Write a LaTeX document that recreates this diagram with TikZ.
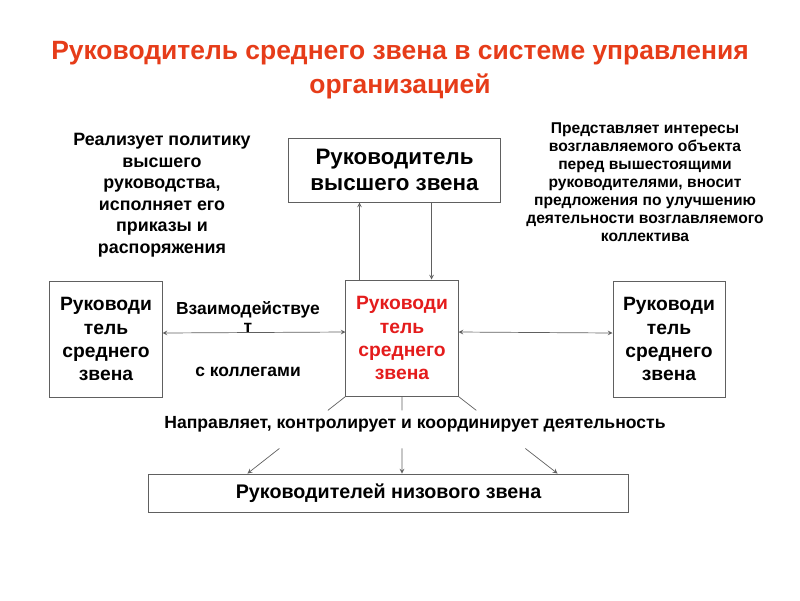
\documentclass[tikz,border=0pt]{standalone}
\usepackage{fontspec}
\setmainfont{Liberation Sans}
\usetikzlibrary{positioning,calc}
\definecolor{colorTitle}{RGB}{230,60,25}
\definecolor{colorMid}{RGB}{228,28,28}
\colorlet{colorLine}{gray!75!black}
\tikzset{
   every path/.style={>=stealth},
   link/.style={color=colorLine,line width=0.5pt},
   box/.style={draw=colorLine,line width=0.7pt,align=center,inner sep=0pt},
   midbox/.style={box,minimum width=2.8cm,minimum height=2.9cm,font=\fontsize{13.7}{16.4}\selectfont\bfseries},
   note/.style={align=center,inner sep=0pt},
}

\begin{document}
\begin{tikzpicture}[x=0.025cm,y=-0.025cm]
   \useasboundingbox (0,0) rectangle (800,600);

   \node (title) [note, text=colorTitle, font=\fontsize{18.8}{24.2}\selectfont\bfseries]
      at (400, 70)
      {Руководитель среднего звена в системе управления\\организацией};

   \node (senior) [box, minimum width=5.275cm, minimum height=1.6cm,
      font=\fontsize{15.9}{18.5}\selectfont\bfseries]
      at (394.5, 170)
      {Руководитель\\высшего звена};

   \node (mid) [midbox, text=colorMid] at (402, 338)
      {Руководи\\тель\\среднего\\звена};
   \node (left) [midbox] at (106, 339)
      {Руководи\\тель\\среднего\\звена};
   \node (right) [midbox] at (669, 339)
      {Руководи\\тель\\среднего\\звена};

   \node (low) [box, minimum width=11.975cm, minimum height=0.95cm,
      font=\fontsize{14}{16}\selectfont\bfseries]
      at (388.5, 493)
      {Руководителей низового звена};

   % notes
   \node (policy) [note, font=\fontsize{12.7}{15.3}\selectfont\bfseries] at (162, 195)
      {Реализует политику\\высшего\\руководства,\\исполняет его\\приказы и\\распоряжения};
   \node (interest) [note, font=\fontsize{11.1}{12.8}\selectfont\bfseries] at (645, 182)
      {Представляет интересы\\возглавляемого объекта\\перед вышестоящими\\руководителями, вносит\\предложения по улучшению\\деятельности возглавляемого\\коллектива};
   \node (interact) [note, font=\fontsize{12.4}{12.5}\selectfont\bfseries] at (248, 317)
      {Взаимодействуе\\т};
   \node (peers) [note, font=\fontsize{12.4}{14}\selectfont\bfseries] at (248, 372)
      {с коллегами};
   \node (direct) [note, font=\fontsize{12.5}{14}\selectfont\bfseries] at (415, 424)
      {Направляет, контролирует и координирует деятельность};

   % vertical links
   \coordinate (upfoot) at ([xshift=0.35cm]mid.north west);
   \coordinate (downfoot) at ([xshift=-0.675cm]mid.north east);
   \draw[link,->] (upfoot) -- (upfoot |- senior.south);
   \draw[link,->] (downfoot |- senior.south) -- (downfoot);

   % peers
   \draw[link,<->] ([yshift=0.15cm]left.east) -- ([yshift=0.15cm]mid.west);
   \draw[link,<->] ([yshift=0.15cm]mid.east) -- ([yshift=0.15cm]right.west);

   % down to the lower level
   \coordinate (la) at ([xshift=2.475cm]low.north west);
   \coordinate (lb) at (mid.south |- low.north);
   \coordinate (lc) at ([xshift=-1.775cm]low.north east);
   \foreach \s/\e in {mid.south west/la, mid.south/lb, mid.south east/lc} {
      \draw[link] (\s) -- ($(\s)!0.18!(\e)$);
      \draw[link,->] ($(\s)!0.675!(\e)$) -- (\e);
   }
\end{tikzpicture}
\end{document}
